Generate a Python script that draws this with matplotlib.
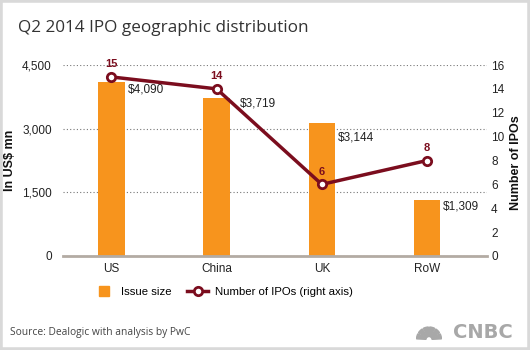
import matplotlib.pyplot as plt
from matplotlib.patches import Rectangle, Wedge
from matplotlib.lines import Line2D

regions = ['US', 'China', 'UK', 'RoW']
issue_size = [4090, 3719, 3144, 1309]
num_ipos = [15, 14, 6, 8]
left_ticks = [0, 1500, 3000, 4500]
right_ticks = [0, 2, 4, 6, 8, 10, 12, 14, 16]

orange = '#f7941d'
maroon = '#7b0d1e'
W, H = 530, 350

plt.rcParams['font.family'] = ['Liberation Sans', 'DejaVu Sans']
fig = plt.figure(figsize=(W / 100, H / 100), dpi=100)
fig.patch.set_facecolor('white')

# frame around the whole graphic
fig.patches.append(Rectangle((0, 0), 1, 1, transform=fig.transFigure, fill=False,
                             edgecolor='#d9d9d9', linewidth=4))

ax = fig.add_axes([63 / W, (H - 256) / H, (487 - 63) / W, (256 - 65) / H])
x = range(len(regions))
ax.bar(x, issue_size, width=0.25, color=orange, zorder=2)
ax.set_xlim(-0.46, 3.57)
ax.set_ylim(0, 4500)
ax.set_yticks(left_ticks)
ax.set_yticklabels([f'{v:,}' for v in left_ticks])
ax.set_xticks(list(x))
ax.set_xticklabels(regions)
ax.tick_params(axis='both', length=0, labelsize=8.5, colors='#222222')
ax.tick_params(axis='y', pad=8)
ax.tick_params(axis='x', pad=5)
ax.grid(axis='y', linestyle=(0, (1, 2)), color='#777777', linewidth=0.8, zorder=0)
for s in ['top', 'left', 'right']:
    ax.spines[s].set_visible(False)
ax.spines['bottom'].set_color('#b3aba3')
ax.spines['bottom'].set_linewidth(2)
ax.spines['bottom'].set_zorder(3)

# dollar labels next to the bars
dx = [3, 10, 3, 3]
dy = [-7, -5, -14, -6]
for i, v in enumerate(issue_size):
    ax.annotate(f'${v:,}', (i + 0.125, v), xytext=(dx[i] * 0.75, dy[i] * 0.75),
                textcoords='offset points', ha='left', va='center',
                fontsize=8.5, color='#222222', zorder=5)

ax2 = ax.twinx()
ax2.plot(list(x), num_ipos, color=maroon, linewidth=2.5, marker='o', markersize=6,
         markerfacecolor='white', markeredgecolor=maroon, markeredgewidth=2, zorder=4)
ax2.set_ylim(0, 16)
ax2.set_yticks(right_ticks)
ax2.tick_params(axis='y', length=0, labelsize=8.5, colors='#222222', pad=3)
for s in ['top', 'left', 'right', 'bottom']:
    ax2.spines[s].set_visible(False)
for i, v in enumerate(num_ipos):
    ax2.annotate(str(v), (i, v), xytext=(0, 9), textcoords='offset points',
                 ha='center', va='center', fontsize=8, fontweight='bold', color=maroon)

fig.text(10 / W, 1 - 160 / H, 'In US$ mn', rotation=90, ha='center', va='center',
         fontsize=9, fontweight='bold', color='#111111')
fig.text(516 / W, 1 - 163 / H, 'Number of IPOs', rotation=90, ha='center', va='center',
         fontsize=9, fontweight='bold', color='#111111')

fig.text(18 / W, 1 - 28 / H, 'Q2 2014 IPO geographic distribution', ha='left', va='center',
         fontsize=12.3, color='#333333', family=['Open Sans', 'DejaVu Sans'])

# legend
handles = [Line2D([], [], linestyle='none', marker='s', markersize=7, color=orange),
           Line2D([], [], color=maroon, linewidth=2.5, marker='o', markersize=6,
                  markerfacecolor='white', markeredgewidth=2)]
fig.legend(handles, ['Issue size', 'Number of IPOs (right axis)'],
           loc='center', bbox_to_anchor=(223 / W, 1 - 292 / H), ncol=2, frameon=False,
           fontsize=8.2, handlelength=1.8, handletextpad=0.6, columnspacing=1.4)

fig.text(10 / W, 1 - 332 / H, 'Source: Dealogic with analysis by PwC', ha='left', va='center',
         fontsize=7.4, color='#444444', family=['Open Sans', 'DejaVu Sans'])

# CNBC mark
fig.text(513 / W, 1 - 332 / H, 'CNBC', ha='right', va='center', fontsize=14,
         fontweight='black', color='#a8a8a8', family=['DejaVu Sans'])
pax = fig.add_axes([416 / W, (H - 342) / H, 26 / W, 18 / H])
pax.set_xlim(-1.3, 1.3)
pax.set_ylim(0, 1.4)
pax.set_aspect('equal')
pax.axis('off')
for k in range(6):
    a0 = 180 - (k + 1) * 30
    pax.add_patch(Wedge((0, 0.05), 1.25, a0 + 3, a0 + 27, width=0.95, color='#a8a8a8'))

fig.savefig('out.png', dpi=100)
